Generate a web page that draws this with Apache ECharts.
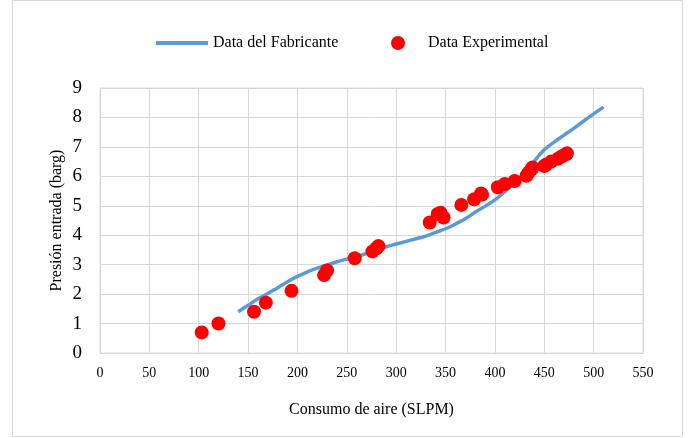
<!DOCTYPE html>
<html><head><meta charset="utf-8">
<script src="https://cdn.jsdelivr.net/npm/echarts@6/dist/echarts.min.js"></script>
<style>html,body{margin:0;padding:0;background:#fff}#c{width:690px;height:438px}</style>
</head><body><div id="c"></div>
<script>
const xTicks = [0,50,100,150,200,250,300,350,400,450,500,550];
const yTicks = [0,1,2,3,4,5,6,7,8,9];
const fabX = [140,150,160,170,180,190,200,210,220,230,240,250,260,270,280,290,300,310,320,330,340,350,360,370,380,390,400,410,420,430,440,450,460,470,480,490,500,510];
const fabY = [1.40,1.62,1.84,2.02,2.22,2.42,2.60,2.75,2.88,2.99,3.10,3.19,3.28,3.38,3.50,3.61,3.70,3.79,3.88,3.97,4.10,4.22,4.38,4.56,4.78,4.98,5.20,5.48,5.78,6.10,6.52,6.90,7.16,7.40,7.63,7.88,8.12,8.35];
const expX = [103,120,156,168,194,227,230,258,276,280,282,334,342,345,348,366,379,386,387,403,410,420,432,434,437,438,450,452,457,464,468,472,473];
const expY = [0.70,1.00,1.40,1.71,2.11,2.65,2.80,3.22,3.45,3.56,3.63,4.43,4.72,4.76,4.60,5.03,5.22,5.42,5.38,5.63,5.74,5.84,6.02,6.12,6.24,6.30,6.35,6.40,6.50,6.60,6.68,6.75,6.78];

const font = 'Liberation Serif';
const chart = echarts.init(document.getElementById('c'));
chart.setOption({
  animation: false,
  textStyle: {fontFamily: font, color: '#000'},
  graphic: [{type:'rect', shape:{x:12.5,y:0.5,width:670,height:436}, style:{fill:'none', stroke:'#D9D9D9', lineWidth:1}, silent:true}],
  legend: [
    {data:[{name:'Data del Fabricante', icon:'rect'}], left:151, top:30, itemWidth:52, itemHeight:4, itemStyle:{color:'#5B9BD5'},
     textStyle:{fontFamily:font, fontSize:16, color:'#000'}},
    {data:[{name:'Data Experimental', icon:'circle'}], left:386, top:30, itemWidth:14, itemHeight:14,
     textStyle:{fontFamily:font, fontSize:16, color:'#000', padding:[0,0,0,18]}}
  ],
  grid: {left:100, right:47, top:88, bottom:85, show:true, borderColor:'#D9D9D9', borderWidth:1},
  xAxis: {
    type:'value', min:xTicks[0], max:xTicks[xTicks.length-1], interval:50,
    name:'Consumo de aire (SLPM)', nameLocation:'middle', nameGap:49,
    nameTextStyle:{fontFamily:font, fontSize:16, color:'#000'},
    axisLine:{show:true, lineStyle:{color:'#D9D9D9'}}, axisTick:{show:false},
    axisLabel:{fontFamily:font, fontSize:14, color:'#000', margin:13},
    splitLine:{show:true, lineStyle:{color:'#D9D9D9', width:1}}
  },
  yAxis: {
    type:'value', min:yTicks[0], max:yTicks[yTicks.length-1], interval:1,
    name:'Presión entrada (barg)', nameLocation:'middle', nameGap:35, nameMoveOverlap:false,
    nameTextStyle:{fontFamily:font, fontSize:16, color:'#000'},
    axisLine:{show:true, lineStyle:{color:'#D9D9D9'}}, axisTick:{show:false},
    axisLabel:{fontFamily:font, fontSize:19, color:'#000', margin:18},
    splitLine:{show:true, lineStyle:{color:'#D9D9D9', width:1}}
  },
  series: [
    {name:'Data del Fabricante', type:'line', smooth:true, symbol:'none', z:2,
     lineStyle:{color:'#5B9BD5', width:3.5}, itemStyle:{color:'#5B9BD5'},
     data: fabX.map((x,i)=>[x,fabY[i]])},
    {name:'Data Experimental', type:'scatter', symbol:'circle', symbolSize:14, z:3,
     itemStyle:{color:'#FF0000', opacity:1},
     data: expX.map((x,i)=>[x,expY[i]])}
  ]
});
</script></body></html>
